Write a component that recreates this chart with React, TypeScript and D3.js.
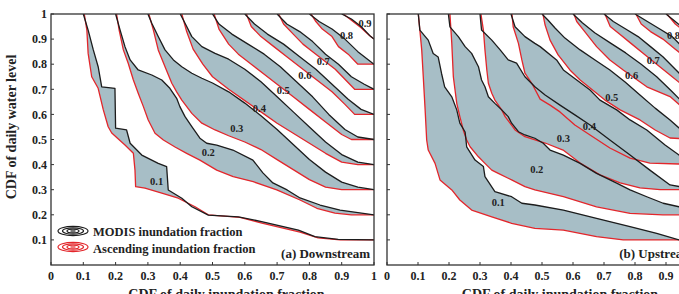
import * as d3 from 'd3';

type Pt = [number, number];

const levels = [0.1, 0.2, 0.3, 0.4, 0.5, 0.6, 0.7, 0.8, 0.9];
const xTicks = [0, 0.1, 0.2, 0.3, 0.4, 0.5, 0.6, 0.7, 0.8, 0.9, 1];
const yTicks = [0.1, 0.2, 0.3, 0.4, 0.5, 0.6, 0.7, 0.8, 0.9, 1];

// Downstream, MODIS inundation fraction (black)
const downModis: Pt[][] = [
  [[.10, 1], [.115, .936], [.131, .857], [.146, .79], [.157, .71], [.198, .704], [.20, .545], [.234, .538], [.245, .485], [.281, .438], [.332, .405], [.358, .392], [.363, .299], [.405, .266], [.436, .232], [.487, .199], [.58, .192], [.652, .173], [.766, .139], [.817, .113], [.889, .102], [1, .1]],
  [[.20, 1], [.214, .936], [.229, .87], [.245, .817], [.27, .777], [.312, .757], [.343, .737], [.368, .704], [.389, .664], [.399, .631], [.415, .591], [.436, .551], [.461, .505], [.482, .485], [.513, .478], [.563, .458], [.625, .418], [.656, .367], [.687, .327], [.731, .299], [.771, .267], [.833, .239], [.895, .219], [1, .2]],
  [[.30, 1], [.312, .963], [.332, .91], [.353, .857], [.379, .817], [.405, .79], [.436, .764], [.467, .744], [.50, .725], [.55, .69], [.60, .645], [.65, .595], [.70, .54], [.75, .48], [.80, .42], [.85, .37], [.90, .33], [.95, .31], [1, .30]],
  [[.40, 1], [.415, .963], [.436, .91], [.467, .87], [.508, .843], [.55, .82], [.60, .78], [.65, .73], [.70, .67], [.75, .61], [.80, .55], [.85, .49], [.90, .44], [.95, .41], [1, .40]],
  [[.50, 1], [.52, .96], [.56, .92], [.61, .88], [.66, .84], [.71, .79], [.76, .73], [.81, .67], [.86, .60], [.91, .54], [.95, .51], [1, .50]],
  [[.60, 1], [.63, .96], [.67, .92], [.72, .88], [.77, .83], [.82, .78], [.87, .72], [.92, .66], [.96, .62], [1, .60]],
  [[.70, 1], [.73, .96], [.77, .93], [.81, .89], [.85, .84], [.89, .80], [.93, .75], [.97, .72], [1, .70]],
  [[.80, 1], [.83, .97], [.87, .94], [.91, .90], [.95, .85], [.98, .82], [1, .80]],
  [[.90, 1], [.93, .98], [.96, .95], [.99, .91], [1, .90]],
];

// Downstream, ascending inundation fraction (red)
const downAsc: Pt[][] = [
  [[.103, 1], [.111, .936], [.115, .843], [.126, .75], [.146, .704], [.162, .618], [.177, .551], [.188, .526], [.229, .478], [.255, .445], [.26, .378], [.262, .312], [.291, .306], [.343, .286], [.394, .266], [.446, .232], [.487, .20], [.585, .19], [.653, .167], [.771, .131], [.827, .108], [.895, .1], [1, .1]],
  [[.203, 1], [.211, .936], [.224, .857], [.239, .804], [.255, .737], [.27, .684], [.286, .631], [.301, .578], [.322, .525], [.348, .498], [.384, .47], [.42, .445], [.461, .418], [.513, .378], [.564, .352], [.626, .332], [.699, .299], [.771, .259], [.823, .226], [.879, .207], [.93, .2], [1, .2]],
  [[.303, 1], [.317, .936], [.332, .857], [.353, .79], [.374, .724], [.389, .69], [.405, .657], [.436, .604], [.467, .565], [.508, .538], [.55, .515], [.60, .49], [.65, .46], [.70, .42], [.75, .38], [.80, .34], [.85, .31], [.90, .30], [1, .30]],
  [[.405, 1], [.42, .93], [.44, .86], [.47, .80], [.50, .75], [.55, .70], [.60, .655], [.65, .61], [.70, .565], [.75, .525], [.80, .485], [.85, .445], [.90, .41], [.95, .40], [1, .40]],
  [[.505, 1], [.52, .94], [.55, .88], [.58, .84], [.62, .80], [.66, .76], [.70, .72], [.75, .67], [.80, .62], [.85, .57], [.90, .52], [.93, .50], [1, .50]],
  [[.605, 1], [.62, .95], [.65, .91], [.69, .87], [.73, .83], [.77, .79], [.82, .74], [.87, .69], [.91, .64], [.94, .60], [1, .60]],
  [[.705, 1], [.72, .96], [.75, .92], [.78, .88], [.81, .85], [.84, .82], [.88, .78], [.91, .74], [.94, .70], [1, .70]],
  [[.805, 1], [.82, .97], [.84, .94], [.87, .91], [.89, .87], [.92, .84], [.95, .80], [1, .80]],
  [[.905, 1], [.93, .975], [.96, .945], [.985, .915], [1, .90]],
];

// Upstream, MODIS inundation fraction (black)
const upModis: Pt[][] = [
  [[.101, 1], [.106, .936], [.133, .896], [.149, .843], [.165, .829], [.176, .763], [.186, .71], [.209, .67], [.225, .618], [.235, .565], [.252, .53], [.257, .471], [.284, .418], [.311, .392], [.316, .352], [.348, .292], [.402, .272], [.435, .246], [.477, .239], [.569, .219], [.676, .186], [.784, .153], [.87, .126], [.942, .1], [1, .1]],
  [[.198, 1], [.203, .949], [.23, .91], [.252, .87], [.273, .843], [.295, .79], [.305, .737], [.316, .71], [.327, .67], [.348, .644], [.37, .618], [.391, .591], [.402, .565], [.424, .531], [.445, .518], [.477, .505], [.504, .485], [.526, .458], [.569, .438], [.623, .405], [.676, .365], [.741, .326], [.784, .299], [.838, .272], [.891, .246], [.942, .232], [1, .2]],
  [[.30, 1], [.305, .936], [.338, .896], [.365, .857], [.391, .817], [.418, .804], [.445, .75], [.477, .71], [.51, .677], [.558, .637], [.606, .598], [.655, .558], [.719, .498], [.784, .438], [.848, .378], [.913, .319], [1, .30]],
  [[.40, 1], [.413, .949], [.445, .91], [.477, .883], [.494, .87], [.547, .817], [.569, .777], [.612, .737], [.655, .697], [.687, .657], [.741, .618], [.784, .578], [.838, .538], [.897, .478], [.942, .438], [1, .40]],
  [[.50, 1], [.519, .976], [.542, .944], [.574, .904], [.623, .857], [.671, .817], [.719, .777], [.768, .729], [.816, .677], [.865, .625], [.913, .578], [.942, .546], [1, .50]],
  [[.60, 1], [.63, .965], [.67, .925], [.72, .885], [.77, .845], [.82, .80], [.87, .75], [.92, .69], [.96, .64], [1, .60]],
  [[.70, 1], [.73, .97], [.77, .94], [.81, .91], [.85, .87], [.89, .83], [.93, .78], [.97, .73], [1, .70]],
  [[.80, 1], [.84, .97], [.88, .94], [.92, .91], [.96, .86], [1, .80]],
  [[.90, 1], [.93, .97], [.97, .93], [1, .90]],
];

// Upstream, ascending inundation fraction (red)
const upAsc: Pt[][] = [
  [[.101, 1], [.106, .936], [.112, .857], [.117, .75], [.123, .618], [.128, .498], [.133, .458], [.155, .405], [.171, .339], [.209, .299], [.235, .259], [.273, .219], [.338, .192], [.402, .166], [.477, .146], [.569, .139], [.676, .113], [.762, .1], [1, .1]],
  [[.203, 1], [.209, .883], [.214, .75], [.225, .644], [.235, .591], [.246, .538], [.257, .498], [.268, .471], [.295, .431], [.316, .405], [.338, .378], [.359, .365], [.402, .339], [.445, .312], [.477, .299], [.569, .272], [.676, .232], [.784, .206], [.89, .2], [1, .2]],
  [[.303, 1], [.311, .936], [.316, .857], [.322, .777], [.327, .724], [.338, .684], [.348, .657], [.37, .618], [.381, .591], [.397, .565], [.413, .538], [.445, .511], [.51, .486], [.568, .458], [.623, .406], [.687, .359], [.752, .327], [.816, .307], [.881, .30], [1, .30]],
  [[.403, 1], [.407, .949], [.424, .883], [.435, .817], [.445, .764], [.467, .724], [.494, .661], [.526, .637], [.558, .61], [.606, .558], [.655, .518], [.719, .466], [.784, .426], [.848, .406], [1, .40]],
  [[.503, 1], [.51, .956], [.526, .896], [.552, .837], [.59, .777], [.623, .737], [.655, .705], [.703, .657], [.752, .618], [.816, .578], [.865, .538], [.913, .506], [1, .50]],
  [[.603, 1], [.612, .97], [.634, .936], [.676, .87], [.719, .817], [.762, .777], [.838, .71], [.913, .671], [.96, .62], [1, .60]],
  [[.703, 1], [.72, .95], [.75, .92], [.79, .88], [.83, .84], [.87, .80], [.91, .76], [.95, .72], [1, .70]],
  [[.803, 1], [.82, .96], [.85, .93], [.89, .90], [.93, .86], [.97, .82], [1, .80]],
  [[.903, 1], [.93, .96], [.96, .93], [1, .90]],
];

// where the level labels sit, in copula coordinates
const downLabels: Pt[] = [[.327, .332], [.487, .447], [.575, .546], [.645, .624], [.719, .694], [.786, .757], [.843, .813], [.915, .916], [.972, .963]];
const upLabels: Pt[] = [[.359, .248], [.483, .381], [.569, .505], [.653, .551], [.725, .668], [.789, .754], [.859, .817], [.924, .916], [.97, .96]];

const W = 679;
const H = 294;
const TOP = 14;
const BOTTOM = 265;
const FONT = "'Liberation Serif', 'Times New Roman', serif";
const FILL = '#a7bec6';
const RED = '#e3262b';
const BLACK = '#1c1c1c';

function Panel({ id, left, right, modis, asc, labels, tag, yLabels, titleShift }: {
  id: string; left: number; right: number; modis: Pt[][]; asc: Pt[][]; labels: Pt[]; tag: string; yLabels: boolean; titleShift: number;
}) {
  const x = d3.scaleLinear().domain([0, 1]).range([left, right]);
  const y = d3.scaleLinear().domain([0, 1]).range([BOTTOM, TOP]);
  const line = d3.line<Pt>().x(d => x(d[0])).y(d => y(d[1]));
  const fmt = (v: number) => (v === 0 || v === 1 ? String(v) : d3.format('.1f')(v));

  return (
    <g>
      <defs>
        <clipPath id={id}>
          <rect x={left} y={TOP} width={right - left} height={BOTTOM - TOP} />
        </clipPath>
      </defs>
      <g clipPath={`url(#${id})`}>
        {levels.map((lv, i) => (
          <path key={'f' + lv} d={line([...modis[i], ...asc[i].slice().reverse()]) + 'Z'} fill={FILL} stroke="none" />
        ))}
        {asc.map((c, i) => (
          <path key={'r' + i} d={line(c) ?? ''} fill="none" stroke={RED} strokeWidth={1.3} strokeLinejoin="round" />
        ))}
        {modis.map((c, i) => (
          <path key={'k' + i} d={line(c) ?? ''} fill="none" stroke={BLACK} strokeWidth={1.3} strokeLinejoin="round" />
        ))}
      </g>
      {labels.map((p, i) => (
        <text key={'l' + i} x={x(p[0])} y={y(p[1])} dy="0.35em" textAnchor="middle"
          fontFamily={FONT} fontWeight="bold" fontSize={10.5} fill="#222">{fmt(levels[i])}</text>
      ))}
      <rect x={left} y={TOP} width={right - left} height={BOTTOM - TOP} fill="none" stroke="#333" strokeWidth={1.3} />
      {xTicks.map(t => (
        <g key={'x' + t}>
          <line x1={x(t)} x2={x(t)} y1={BOTTOM} y2={BOTTOM - 3} stroke="#333" />
          <text x={x(t)} y={279.5} textAnchor="middle" fontFamily={FONT} fontWeight="bold" fontSize={12} fill="#222">{fmt(t)}</text>
        </g>
      ))}
      {yTicks.map(t => (
        <g key={'y' + t}>
          <line x1={left} x2={left + 3} y1={y(t)} y2={y(t)} stroke="#333" />
          {yLabels && (
            <text x={left - 4} y={y(t)} dy="0.35em" textAnchor="end" fontFamily={FONT} fontWeight="bold" fontSize={12} fill="#222">{fmt(t)}</text>
          )}
        </g>
      ))}
      <text x={right - 4} y={258} textAnchor="end" fontFamily={FONT} fontWeight="bold" fontSize={13} fill="#222">{tag}</text>
      <text x={(left + right) / 2 + titleShift} y={299} textAnchor="middle" fontFamily={FONT} fontWeight="bold" fontSize={14} fill="#222">CDF of daily inundation fraction</text>
    </g>
  );
}

function LegendIcon({ cx, cy, color }: { cx: number; cy: number; color: string }) {
  return (
    <g fill="none" stroke={color} strokeWidth={1.2}>
      <ellipse cx={cx} cy={cy} rx={15} ry={4.6} />
      <ellipse cx={cx} cy={cy} rx={10.5} ry={3.2} />
      <ellipse cx={cx} cy={cy} rx={6} ry={1.9} />
      <line x1={cx - 2.5} x2={cx + 2.5} y1={cy} y2={cy} />
    </g>
  );
}

export default function App() {
  return (
    <svg width={W} height={H} style={{ position: 'absolute', left: 0, top: 0, background: '#fff' }}>
      <rect width={W} height={H} fill="#fff" />
      <Panel id="clipDown" left={51} right={374} modis={downModis} asc={downAsc} labels={downLabels} tag="(a) Downstream" yLabels titleShift={14} />
      <Panel id="clipUp" left={387} right={697} modis={upModis} asc={upAsc} labels={upLabels} tag="(b) Upstream" yLabels={false} titleShift={18} />
      <text transform="translate(15.5,127) rotate(-90)" textAnchor="middle" fontFamily={FONT} fontWeight="bold" fontSize={14} fill="#222">CDF of daily water level</text>
      <LegendIcon cx={73} cy={231} color={BLACK} />
      <LegendIcon cx={73} cy={247} color={RED} />
      <text x={93} y={236} fontFamily={FONT} fontWeight="bold" fontSize={12.5} fill="#222">MODIS inundation fraction</text>
      <text x={93} y={252.5} fontFamily={FONT} fontWeight="bold" fontSize={12.5} fill="#222">Ascending inundation fraction</text>
    </svg>
  );
}
